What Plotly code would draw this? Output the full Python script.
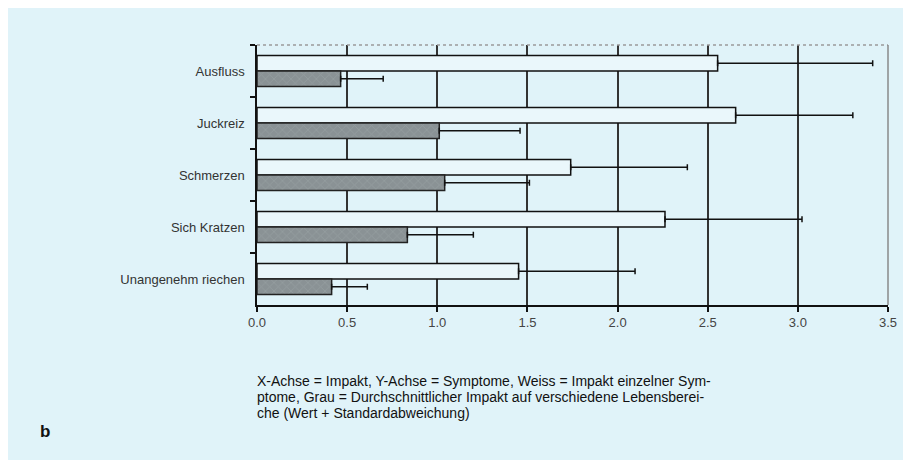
import plotly.graph_objects as go

categories = ["Ausfluss", "Juckreiz", "Schmerzen", "Sich Kratzen", "Unangenehm riechen"]
white_values = [2.555, 2.655, 1.74, 2.263, 1.451]
white_sd = [0.86, 0.65, 0.647, 0.76, 0.646]
gray_values = [0.464, 1.011, 1.041, 0.834, 0.414]
gray_sd = [0.236, 0.448, 0.47, 0.366, 0.198]
x_ticks = [0.0, 0.5, 1.0, 1.5, 2.0, 2.5, 3.0, 3.5]
x_tick_labels = ["0.0", "0.5", "1.0", "1.5", "2.0", "2.5", "3.0", "3.5"]
caption_lines = [
    "X-Achse = Impakt, Y-Achse = Symptome, Weiss = Impakt einzelner Sym-",
    "ptome, Grau = Durchschnittlicher Impakt auf verschiedene Lebensberei-",
    "che (Wert + Standardabweichung)",
]

BG = "#e0f3f9"
OFF = 8  # page body margin
W, H = 911 - OFF, 460 - OFF
L, R, T = 257 - OFF, 23, 45 - OFF
B = H - (305 - OFF)
PW, PH = W - L - R, H - T - B

def px(x):
    return (x - OFF - L) / PW

def py(y):
    return (H - B - (y - OFF)) / PH

fig = go.Figure()
fig.add_trace(go.Bar(
    y=categories, x=white_values, orientation="h", name="Weiss",
    marker=dict(color="#eaf7fb", line=dict(color="#111111", width=1.5)),
    error_x=dict(type="data", array=white_sd, arrayminus=[0] * len(white_sd),
                 symmetric=False, color="#111111", thickness=1.5, width=3),
))
fig.add_trace(go.Bar(
    y=categories, x=gray_values, orientation="h", name="Grau",
    marker=dict(color="#8d9598", line=dict(color="#222222", width=1.5),
                pattern=dict(shape="x", fgcolor="#a0a8aa", bgcolor="#8a9295",
                             size=6, solidity=0.25)),
    error_x=dict(type="data", array=gray_sd, arrayminus=[0] * len(gray_sd),
                 symmetric=False, color="#111111", thickness=1.5, width=3),
))

shapes = [
    dict(type="line", xref="paper", yref="paper", x0=0, x1=1, y0=1, y1=1,
         line=dict(color="#9a9a9a", width=1.5, dash="dot")),
    dict(type="line", xref="paper", yref="paper", x0=1, x1=1, y0=0, y1=1,
         line=dict(color="#8a8a8a", width=1.5)),
]

annotations = []
for i, line in enumerate(caption_lines):
    annotations.append(dict(
        xref="paper", yref="paper", x=px(255), y=py(381 + 16 * i),
        xanchor="left", yanchor="middle", showarrow=False, text=line,
        font=dict(family="Liberation Sans, Arial", size=14, color="#111111"),
    ))
annotations.append(dict(
    xref="paper", yref="paper", x=px(38), y=py(431), xanchor="left", yanchor="middle",
    showarrow=False, text="<b>b</b>",
    font=dict(family="Liberation Sans, Arial", size=17, color="#111111"),
))

fig.update_layout(
    width=W, height=H,
    margin=dict(l=L, r=R, t=T, b=B, pad=0),
    paper_bgcolor=BG, plot_bgcolor=BG,
    barmode="group", bargap=0.4, bargroupgap=0,
    showlegend=False,
    font=dict(family="Liberation Sans, Arial", size=13, color="#333333"),
    shapes=shapes, annotations=annotations,
    xaxis=dict(
        range=[0, 3.5], tickvals=x_ticks, ticktext=x_tick_labels,
        showgrid=True, gridcolor="#333333", gridwidth=1.5,
        showline=True, linecolor="#111111", linewidth=1.5,
        ticks="outside", ticklen=5, tickcolor="#111111", tickwidth=1.5,
        zeroline=False, fixedrange=True,
        tickfont=dict(size=13, color="#444444"),
    ),
    yaxis=dict(
        autorange="reversed", type="category",
        showgrid=False, showline=True, linecolor="#111111", linewidth=1.5,
        ticks="outside", ticklen=5, tickcolor="#111111", tickwidth=1.5,
        tickson="boundaries", ticklabelstandoff=8,
        tickfont=dict(size=13, color="#333333"),
    ),
)

fig.write_html("out.html")
